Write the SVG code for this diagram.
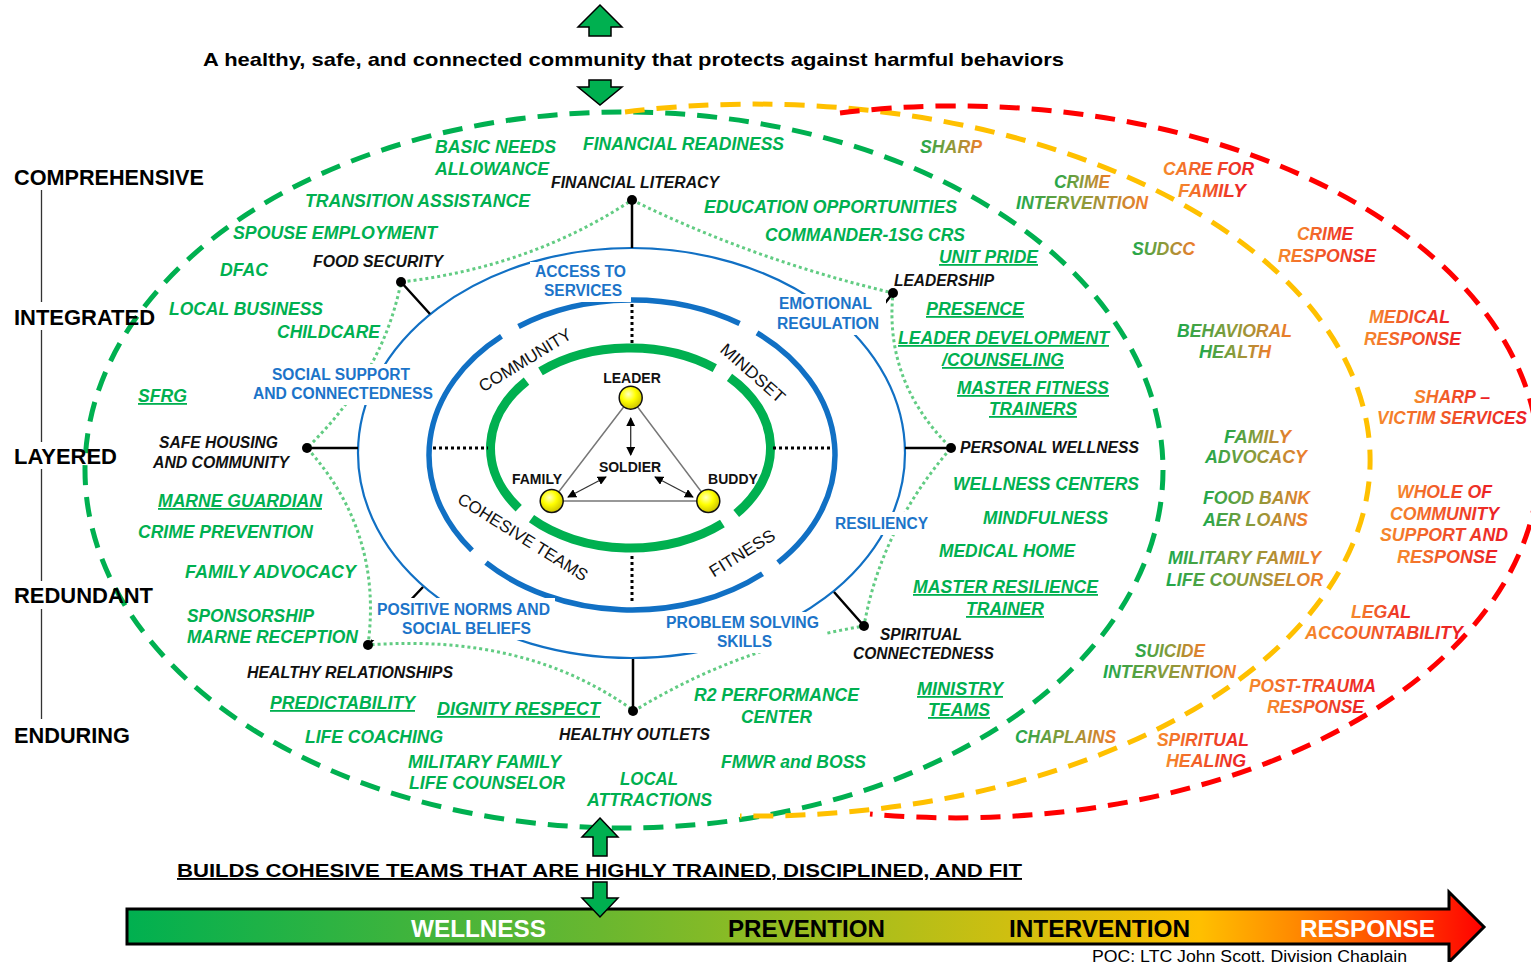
<svg xmlns="http://www.w3.org/2000/svg" width="1531" height="962" viewBox="0 0 1531 962">
<defs>
<style>
text{font-family:'Liberation Sans',Arial,sans-serif}
.g{font-weight:bold;font-style:italic;font-size:18px;fill:#00b050}
.y{font-weight:bold;font-style:italic;font-size:18px;fill:url(#go)}
.r{font-weight:bold;font-style:italic;font-size:18px;fill:url(#or)}
.u{text-decoration:underline}
.k{font-weight:bold;font-style:italic;font-size:16px;fill:#111}
.b{font-weight:bold;font-size:16px;fill:#1c74c9}
.lv{font-weight:bold;font-size:22px;fill:#000}
.rg{font-size:17px;fill:#111;text-anchor:middle}
.tr{font-weight:bold;font-size:14px;fill:#111;text-anchor:middle}
.hd{font-weight:bold;font-size:19px;fill:#000}
.bt{font-weight:bold;font-size:24px}
.dz{fill:none;stroke-width:5;stroke-dasharray:20 12}
.dot{fill:none;stroke:#62cc83;stroke-width:3;stroke-dasharray:3 3}
.bd{fill:none;stroke:#000;stroke-width:3;stroke-dasharray:3 3}
.cn{stroke:#000;stroke-width:2.5;fill:none}
.arr{fill:#00b050;stroke:#000;stroke-width:1.5}
.box{fill:#fff}
.nd{fill:#000}
.ball{fill:url(#ball);stroke:#111;stroke-width:1.5}
.tl{stroke:#777;stroke-width:1.5;fill:none}
.ta{stroke:#333;stroke-width:1.3;fill:none;marker-start:url(#ah);marker-end:url(#ah)}
</style>
<linearGradient id="go" x1="0" y1="0" x2="1" y2="0"><stop offset="0" stop-color="#1ea84b"/><stop offset="0.5" stop-color="#8c9a3a"/><stop offset="1" stop-color="#f47b2a"/></linearGradient>
<linearGradient id="or" x1="0" y1="0" x2="1" y2="0"><stop offset="0" stop-color="#f58a2c"/><stop offset="1" stop-color="#ec1c24"/></linearGradient>
<linearGradient id="bar" gradientUnits="userSpaceOnUse" x1="127" y1="0" x2="1484" y2="0">
<stop offset="0" stop-color="#00b050"/><stop offset="0.35" stop-color="#6ab72f"/><stop offset="0.5" stop-color="#9abd20"/><stop offset="0.65" stop-color="#cfbf10"/><stop offset="0.79" stop-color="#ffc000"/><stop offset="0.86" stop-color="#ff8a00"/><stop offset="0.93" stop-color="#ff4a00"/><stop offset="1" stop-color="#ff0000"/>
</linearGradient>
<radialGradient id="ball" cx="0.4" cy="0.35" r="0.7"><stop offset="0" stop-color="#ffffc0"/><stop offset="0.45" stop-color="#ffff00"/><stop offset="1" stop-color="#c8bc00"/></radialGradient>
<marker id="ah" viewBox="0 0 10 10" refX="9" refY="5" markerWidth="9" markerHeight="9" markerUnits="userSpaceOnUse" orient="auto-start-reverse"><path d="M0,0 L10,5 L0,10 Z" fill="#000"/></marker>
</defs>
<rect width="1531" height="962" fill="#fff"/>

<g id="zones">
<ellipse class="dz" stroke="#00b050" cx="624" cy="470" rx="539" ry="358"/>
<path class="dz" stroke="#ffc000" d="M625,112 A616,356 0 1 1 740,816"/>
<path class="dz" stroke="#ff0000" d="M840,113 A583,356 0 1 1 870,814"/>
</g>

<g id="rings">
<ellipse cx="631.5" cy="453" rx="273.5" ry="205" fill="none" stroke="#1170c4" stroke-width="2.2"/>
<g fill="none" stroke="#1170c4" stroke-width="5.5">
<path d="M518.5,326.5 A203,155 0 0 1 739.6,323.6"/>
<path d="M757,332.9 A203,155 0 0 1 778,562.7"/>
<path d="M762.5,573.7 A203,155 0 0 1 486,562.7"/>
<path d="M472,550.4 A203,155 0 0 1 501.5,336.3"/>
</g>
<g fill="none" stroke="#00b050" stroke-width="9">
<path d="M540.5,371.4 A140,100 0 0 1 714.8,368.1"/>
<path d="M729.5,377.3 A140,100 0 0 1 736.2,513.6"/>
<path d="M722.4,523.5 A140,100 0 0 1 531.5,518.7"/>
<path d="M518.7,508.2 A140,100 0 0 1 526.5,381.1"/>
</g>
</g>

<g id="connectors">
<path class="bd" d="M632,304 V344 M632,556 V604 M433,448 H488 M773,448 H833"/>
<path class="dot" d="M632,200 Q754,260 893,293 Q884,382 951,448 Q881,529 864,626 Q738,647 634,711 Q527,633 368,645 Q383,532 307,448 Q383,374 401,282 Q531,267 632,200"/>
<path class="cn" d="M632,200 V248 M401,282 L430,314 M893,293 L870,322 M951,448 H905 M864,626 L834,592 M633,711 V659 M368,645 L423,587 M307,448 H358"/>
</g>

<g id="label-boxes">
<rect class="box" x="530" y="262" width="101" height="40"/>
<rect class="box" x="774" y="294" width="112" height="41"/>
<rect class="box" x="248" y="364" width="189" height="41"/>
<rect class="box" x="829" y="512" width="106" height="23"/>
<rect class="box" x="372" y="598" width="183" height="42"/>
<rect class="box" x="661" y="612" width="164" height="41"/>
</g>

<g id="dots">
<circle class="nd" cx="632" cy="200" r="5"/>
<circle class="nd" cx="401" cy="282" r="5"/>
<circle class="nd" cx="893" cy="293" r="5"/>
<circle class="nd" cx="951" cy="448" r="5"/>
<circle class="nd" cx="864" cy="626" r="5"/>
<circle class="nd" cx="633" cy="711" r="5"/>
<circle class="nd" cx="368" cy="645" r="5"/>
<circle class="nd" cx="307" cy="448" r="5"/>
</g>

<g id="blue-labels" class="b">
<text x="535" y="277" textLength="91" lengthAdjust="spacingAndGlyphs">ACCESS TO</text>
<text x="544" y="296" textLength="78" lengthAdjust="spacingAndGlyphs">SERVICES</text>
<text x="779" y="309" textLength="93" lengthAdjust="spacingAndGlyphs">EMOTIONAL</text>
<text x="777" y="329" textLength="102" lengthAdjust="spacingAndGlyphs">REGULATION</text>
<text x="272" y="380" textLength="138" lengthAdjust="spacingAndGlyphs">SOCIAL SUPPORT</text>
<text x="253" y="399" textLength="180" lengthAdjust="spacingAndGlyphs">AND CONNECTEDNESS</text>
<text x="835" y="529" textLength="93" lengthAdjust="spacingAndGlyphs">RESILIENCY</text>
<text x="377" y="615" textLength="173" lengthAdjust="spacingAndGlyphs">POSITIVE NORMS AND</text>
<text x="402" y="634" textLength="129" lengthAdjust="spacingAndGlyphs">SOCIAL BELIEFS</text>
<text x="666" y="628" textLength="153" lengthAdjust="spacingAndGlyphs">PROBLEM SOLVING</text>
<text x="717" y="647" textLength="55" lengthAdjust="spacingAndGlyphs">SKILLS</text>
</g>

<g id="node-labels" class="k">
<text x="551" y="188" textLength="168" lengthAdjust="spacingAndGlyphs">FINANCIAL LITERACY</text>
<text x="313" y="267" textLength="130" lengthAdjust="spacingAndGlyphs">FOOD SECURITY</text>
<text x="894" y="286" textLength="100" lengthAdjust="spacingAndGlyphs">LEADERSHIP</text>
<text x="159" y="448" textLength="119" lengthAdjust="spacingAndGlyphs">SAFE HOUSING</text>
<text x="153" y="468" textLength="136" lengthAdjust="spacingAndGlyphs">AND COMMUNITY</text>
<text x="960" y="453" textLength="179" lengthAdjust="spacingAndGlyphs">PERSONAL WELLNESS</text>
<text x="880" y="640" textLength="82" lengthAdjust="spacingAndGlyphs">SPIRITUAL</text>
<text x="853" y="659" textLength="141" lengthAdjust="spacingAndGlyphs">CONNECTEDNESS</text>
<text x="559" y="740" textLength="151" lengthAdjust="spacingAndGlyphs">HEALTHY OUTLETS</text>
<text x="247" y="678" textLength="206" lengthAdjust="spacingAndGlyphs">HEALTHY RELATIONSHIPS</text>
</g>

<g id="ring-labels" class="rg">
<text transform="translate(525,360) rotate(-31.5)" y="6" textLength="105" lengthAdjust="spacingAndGlyphs">COMMUNITY</text>
<text transform="translate(753,373) rotate(41.5)" y="6" textLength="80" lengthAdjust="spacingAndGlyphs">MINDSET</text>
<text transform="translate(523,537) rotate(32)" y="6" textLength="150" lengthAdjust="spacingAndGlyphs">COHESIVE TEAMS</text>
<text transform="translate(742,553) rotate(-32)" y="6" textLength="74" lengthAdjust="spacingAndGlyphs">FITNESS</text>
</g>

<g id="triangle">
<path class="tl" d="M630.7,397.7 L551.7,501 L708.3,501 Z"/>
<path class="ta" d="M630.7,418 V455"/>
<path class="ta" d="M606,477 L568,497"/>
<path class="ta" d="M655,477 L693,497"/>
<circle class="ball" cx="630.7" cy="397.7" r="11.5"/>
<circle class="ball" cx="551.7" cy="501" r="11.5"/>
<circle class="ball" cx="708.3" cy="501" r="11.5"/>
<text class="tr" x="632" y="383">LEADER</text>
<text class="tr" x="630" y="472">SOLDIER</text>
<text class="tr" x="537" y="484">FAMILY</text>
<text class="tr" x="733" y="484">BUDDY</text>
</g>

<g id="wellness-items" class="g">
<text x="435" y="153" textLength="121" lengthAdjust="spacingAndGlyphs">BASIC NEEDS</text>
<text x="435" y="175" textLength="114" lengthAdjust="spacingAndGlyphs">ALLOWANCE</text>
<text x="583" y="150" textLength="201" lengthAdjust="spacingAndGlyphs">FINANCIAL READINESS</text>
<text x="305" y="207" textLength="225" lengthAdjust="spacingAndGlyphs">TRANSITION ASSISTANCE</text>
<text x="233" y="239" textLength="204" lengthAdjust="spacingAndGlyphs">SPOUSE EMPLOYMENT</text>
<text x="220" y="276" textLength="48" lengthAdjust="spacingAndGlyphs">DFAC</text>
<text x="169" y="315" textLength="154" lengthAdjust="spacingAndGlyphs">LOCAL BUSINESS</text>
<text x="277" y="338" textLength="103" lengthAdjust="spacingAndGlyphs">CHILDCARE</text>
<text class="u" x="138" y="402" textLength="49" lengthAdjust="spacingAndGlyphs">SFRG</text>
<text x="704" y="213" textLength="253" lengthAdjust="spacingAndGlyphs">EDUCATION OPPORTUNITIES</text>
<text x="765" y="241" textLength="200" lengthAdjust="spacingAndGlyphs">COMMANDER-1SG CRS</text>
<text class="u" x="939" y="263" textLength="99" lengthAdjust="spacingAndGlyphs">UNIT PRIDE</text>
<text class="u" x="926" y="315" textLength="98" lengthAdjust="spacingAndGlyphs">PRESENCE</text>
<text class="u" x="898" y="344" textLength="211" lengthAdjust="spacingAndGlyphs">LEADER DEVELOPMENT</text>
<text class="u" x="942" y="366" textLength="122" lengthAdjust="spacingAndGlyphs">/COUNSELING</text>
<text class="u" x="957" y="394" textLength="152" lengthAdjust="spacingAndGlyphs">MASTER FITNESS</text>
<text class="u" x="989" y="415" textLength="88" lengthAdjust="spacingAndGlyphs">TRAINERS</text>
<text x="953" y="490" textLength="186" lengthAdjust="spacingAndGlyphs">WELLNESS CENTERS</text>
<text x="983" y="524" textLength="125" lengthAdjust="spacingAndGlyphs">MINDFULNESS</text>
<text x="939" y="557" textLength="136" lengthAdjust="spacingAndGlyphs">MEDICAL HOME</text>
<text class="u" x="913" y="593" textLength="185" lengthAdjust="spacingAndGlyphs">MASTER RESILIENCE</text>
<text class="u" x="966" y="615" textLength="78" lengthAdjust="spacingAndGlyphs">TRAINER</text>
<text class="u" x="917" y="695" textLength="86" lengthAdjust="spacingAndGlyphs">MINISTRY</text>
<text class="u" x="928" y="716" textLength="62" lengthAdjust="spacingAndGlyphs">TEAMS</text>
<text x="694" y="701" textLength="165" lengthAdjust="spacingAndGlyphs">R2 PERFORMANCE</text>
<text x="741" y="723" textLength="71" lengthAdjust="spacingAndGlyphs">CENTER</text>
<text x="721" y="768" textLength="145" lengthAdjust="spacingAndGlyphs">FMWR and BOSS</text>
<text x="620" y="785" textLength="58" lengthAdjust="spacingAndGlyphs">LOCAL</text>
<text x="587" y="806" textLength="125" lengthAdjust="spacingAndGlyphs">ATTRACTIONS</text>
<text x="408" y="768" textLength="153" lengthAdjust="spacingAndGlyphs">MILITARY FAMILY</text>
<text x="409" y="789" textLength="156" lengthAdjust="spacingAndGlyphs">LIFE COUNSELOR</text>
<text x="305" y="743" textLength="138" lengthAdjust="spacingAndGlyphs">LIFE COACHING</text>
<text class="u" x="270" y="709" textLength="145" lengthAdjust="spacingAndGlyphs">PREDICTABILITY</text>
<text class="u" x="437" y="715" textLength="163" lengthAdjust="spacingAndGlyphs">DIGNITY  RESPECT</text>
<text x="187" y="622" textLength="127" lengthAdjust="spacingAndGlyphs">SPONSORSHIP</text>
<text x="187" y="643" textLength="171" lengthAdjust="spacingAndGlyphs">MARNE RECEPTION</text>
<text x="185" y="578" textLength="171" lengthAdjust="spacingAndGlyphs">FAMILY ADVOCACY</text>
<text x="138" y="538" textLength="175" lengthAdjust="spacingAndGlyphs">CRIME PREVENTION</text>
<text class="u" x="158" y="507" textLength="164" lengthAdjust="spacingAndGlyphs">MARNE GUARDIAN</text>
</g>

<g id="intervention-items" class="y">
<text x="920" y="153" textLength="62" lengthAdjust="spacingAndGlyphs">SHARP</text>
<text x="1054" y="188" textLength="56" lengthAdjust="spacingAndGlyphs">CRIME</text>
<text x="1016" y="209" textLength="132" lengthAdjust="spacingAndGlyphs">INTERVENTION</text>
<text x="1132" y="255" textLength="63" lengthAdjust="spacingAndGlyphs">SUDCC</text>
<text x="1177" y="337" textLength="115" lengthAdjust="spacingAndGlyphs">BEHAVIORAL</text>
<text x="1199" y="358" textLength="72" lengthAdjust="spacingAndGlyphs">HEALTH</text>
<text x="1224" y="443" textLength="67" lengthAdjust="spacingAndGlyphs">FAMILY</text>
<text x="1205" y="463" textLength="102" lengthAdjust="spacingAndGlyphs">ADVOCACY</text>
<text x="1203" y="504" textLength="107" lengthAdjust="spacingAndGlyphs">FOOD BANK</text>
<text x="1203" y="526" textLength="105" lengthAdjust="spacingAndGlyphs">AER LOANS</text>
<text x="1168" y="564" textLength="153" lengthAdjust="spacingAndGlyphs">MILITARY FAMILY</text>
<text x="1166" y="586" textLength="157" lengthAdjust="spacingAndGlyphs">LIFE COUNSELOR</text>
<text x="1135" y="657" textLength="70" lengthAdjust="spacingAndGlyphs">SUICIDE</text>
<text x="1103" y="678" textLength="133" lengthAdjust="spacingAndGlyphs">INTERVENTION</text>
<text x="1015" y="743" textLength="101" lengthAdjust="spacingAndGlyphs">CHAPLAINS</text>
</g>

<g id="response-items" class="r">
<text x="1163" y="175" textLength="91" lengthAdjust="spacingAndGlyphs">CARE FOR</text>
<text x="1178" y="197" textLength="68" lengthAdjust="spacingAndGlyphs">FAMILY</text>
<text x="1297" y="240" textLength="56" lengthAdjust="spacingAndGlyphs">CRIME</text>
<text x="1278" y="262" textLength="98" lengthAdjust="spacingAndGlyphs">RESPONSE</text>
<text x="1369" y="323" textLength="81" lengthAdjust="spacingAndGlyphs">MEDICAL</text>
<text x="1364" y="345" textLength="97" lengthAdjust="spacingAndGlyphs">RESPONSE</text>
<text x="1414" y="403" textLength="76" lengthAdjust="spacingAndGlyphs">SHARP –</text>
<text x="1377" y="424" textLength="150" lengthAdjust="spacingAndGlyphs">VICTIM SERVICES</text>
<text x="1397" y="498" textLength="95" lengthAdjust="spacingAndGlyphs">WHOLE OF</text>
<text x="1390" y="520" textLength="109" lengthAdjust="spacingAndGlyphs">COMMUNITY</text>
<text x="1380" y="541" textLength="128" lengthAdjust="spacingAndGlyphs">SUPPORT AND</text>
<text x="1397" y="563" textLength="100" lengthAdjust="spacingAndGlyphs">RESPONSE</text>
<text x="1351" y="618" textLength="60" lengthAdjust="spacingAndGlyphs">LEGAL</text>
<text x="1305" y="639" textLength="158" lengthAdjust="spacingAndGlyphs">ACCOUNTABILITY</text>
<text x="1249" y="692" textLength="127" lengthAdjust="spacingAndGlyphs">POST-TRAUMA</text>
<text x="1267" y="713" textLength="97" lengthAdjust="spacingAndGlyphs">RESPONSE</text>
<text x="1157" y="746" textLength="92" lengthAdjust="spacingAndGlyphs">SPIRITUAL</text>
<text x="1166" y="767" textLength="80" lengthAdjust="spacingAndGlyphs">HEALING</text>
</g>

<g id="levels">
<path d="M41.5,190 V302 M41.5,330 V442 M41.5,469 V581 M41.5,609 V719" stroke="#333" stroke-width="1.3" fill="none"/>
<text class="lv" x="14" y="185" textLength="190" lengthAdjust="spacingAndGlyphs">COMPREHENSIVE</text>
<text class="lv" x="14" y="325" textLength="141" lengthAdjust="spacingAndGlyphs">INTEGRATED</text>
<text class="lv" x="14" y="464" textLength="103" lengthAdjust="spacingAndGlyphs">LAYERED</text>
<text class="lv" x="14" y="603" textLength="139" lengthAdjust="spacingAndGlyphs">REDUNDANT</text>
<text class="lv" x="14" y="743" textLength="116" lengthAdjust="spacingAndGlyphs">ENDURING</text>
</g>

<g id="top">
<path class="arr" d="M600,5 L622,27 L611,27 L611,36 L589,36 L589,27 L578,27 Z"/>
<text class="hd" x="203" y="66" textLength="861" lengthAdjust="spacingAndGlyphs">A healthy, safe, and connected community that protects against harmful behaviors</text>
<path class="arr" d="M589,80 L611,80 L611,87 L622,87 L600,105 L578,87 L589,87 Z"/>
</g>

<g id="bottom">
<path d="M127,909 H1449 V892 L1484,927 L1449,962 V944 H127 Z" fill="url(#bar)" stroke="#000" stroke-width="3"/>
<path class="arr" d="M600,818 L618,837 L607,837 L607,856 L593,856 L593,837 L582,837 Z"/>
<text class="hd u" x="177" y="877" textLength="845" lengthAdjust="spacingAndGlyphs">BUILDS COHESIVE TEAMS THAT ARE HIGHLY TRAINED, DISCIPLINED, AND FIT</text>
<path class="arr" d="M593,882 L607,882 L607,898 L618,898 L600,917 L582,898 L593,898 Z"/>
<text class="bt" x="411" y="937" fill="#fff" textLength="135" lengthAdjust="spacingAndGlyphs">WELLNESS</text>
<text class="bt" x="728" y="937" fill="#000" textLength="157" lengthAdjust="spacingAndGlyphs">PREVENTION</text>
<text class="bt" x="1009" y="937" fill="#000" textLength="181" lengthAdjust="spacingAndGlyphs">INTERVENTION</text>
<text class="bt" x="1300" y="937" fill="#fff" textLength="135" lengthAdjust="spacingAndGlyphs">RESPONSE</text>
<text x="1092" y="962" font-size="16" fill="#000" textLength="315" lengthAdjust="spacingAndGlyphs">POC: LTC John Scott, Division Chaplain</text>
</g>
</svg>
